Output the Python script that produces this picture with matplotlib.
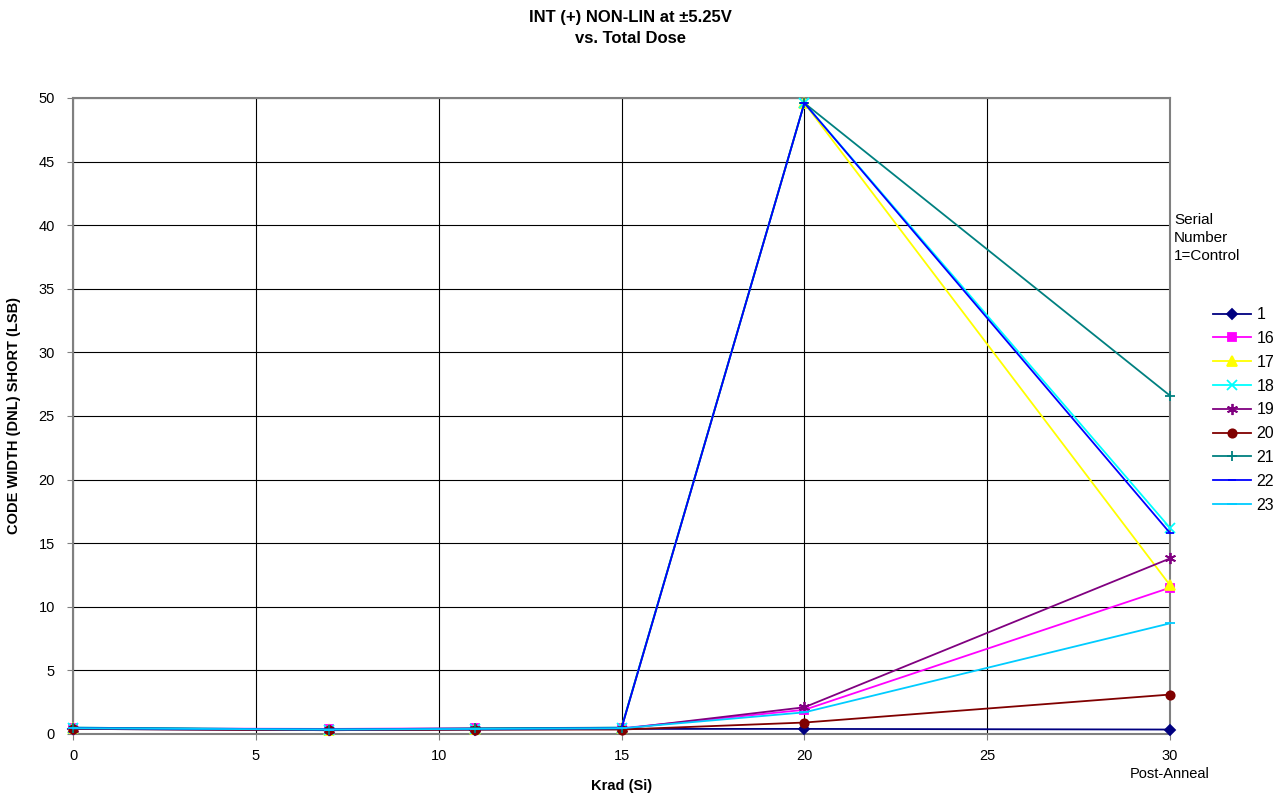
import numpy as np
import matplotlib
matplotlib.use('Agg')
from matplotlib import pyplot as plt

plt.rcParams['font.family'] = ['Liberation Sans', 'DejaVu Sans']

# dose points, krad (Si); 30 = post-anneal
dose = [0, 7, 11, 15, 20, 30]

s1 = [0.40, 0.30, 0.35, 0.40, 0.40, 0.35]
s16 = [0.45, 0.40, 0.45, 0.45, 1.90, 11.5]
s17 = [0.45, 0.35, 0.40, 0.45, 49.6, 11.7]
s18 = [0.50, 0.35, 0.40, 0.50, 49.6, 16.2]
s19 = [0.40, 0.35, 0.40, 0.40, 2.10, 13.8]
s20 = [0.40, 0.30, 0.35, 0.35, 0.90, 3.10]
s21 = [0.50, 0.35, 0.45, 0.50, 49.6, 26.6]
s22 = [0.45, 0.35, 0.40, 0.45, 49.6, 15.8]
s23 = [0.45, 0.35, 0.40, 0.45, 1.70, 8.70]

serials = ['1', '16', '17', '18', '19', '20', '21', '22', '23']
values = [s1, s16, s17, s18, s19, s20, s21, s22, s23]
colors = ['#000080', '#FF00FF', '#FFFF00', '#00FFFF', '#800080',
          '#800000', '#008080', '#0000FF', '#00CCFF']
markers = ['D', 's', '^', 'x', (6, 2, 0), 'o', '+', '_', '_']
msizes = [5, 6, 7, 7, 8, 6, 7, 6, 7]

fig = plt.figure(figsize=(12.86, 7.96), dpi=100)
ax = fig.add_axes([0.0568, 0.0779, 0.8530, 0.7990])

for lab, v, c, m, ms in zip(serials, values, colors, markers, msizes):
    ax.plot(dose, v, color=c, marker=m, markersize=ms, linewidth=1.3,
            markeredgewidth=1.3, label=lab, clip_on=False, zorder=3)

ax.set_xlim(0, 30)
ax.set_ylim(0, 50)
ax.set_xticks(np.arange(0, 31, 5))
ax.set_yticks(np.arange(0, 51, 5))
ax.grid(True, color='black', linewidth=0.8)
ax.set_axisbelow(True)
for sp in ax.spines.values():
    sp.set_color('#808080')
    sp.set_linewidth(1.5)
ax.tick_params(labelsize=10.5, length=4, color='#808080')
ax.tick_params(axis='x', pad=7)
ax.tick_params(axis='y', pad=9)

ax.set_xlabel('Krad (Si)', fontsize=10.5, fontweight='bold')
ax.xaxis.set_label_coords(0.5, -0.07)
ax.set_ylabel('CODE WIDTH (DNL) SHORT (LSB)', fontsize=10.5,
              fontweight='bold')
ax.yaxis.set_label_coords(-0.047, 0.5)
ax.text(30, -3.15, 'Post-Anneal', ha='center', va='center', fontsize=10.5)

fig.text(0.49, 0.988, 'INT (+) NON-LIN at \u00b15.25V\nvs. Total Dose',
         ha='center', va='top', fontsize=12, fontweight='bold',
         linespacing=1.55)

fig.text(0.913, 0.733, 'Serial\nNumber\n1=Control', ha='left', va='top',
         fontsize=11, linespacing=1.4)

ax.legend(loc='upper left', bbox_to_anchor=(0.943, 0.614),
          bbox_transform=fig.transFigure, frameon=False, borderpad=0,
          borderaxespad=0, fontsize=11.5, handlelength=2.4,
          labelspacing=0.55, handletextpad=0.35)

fig.savefig('out.png', dpi=100)
